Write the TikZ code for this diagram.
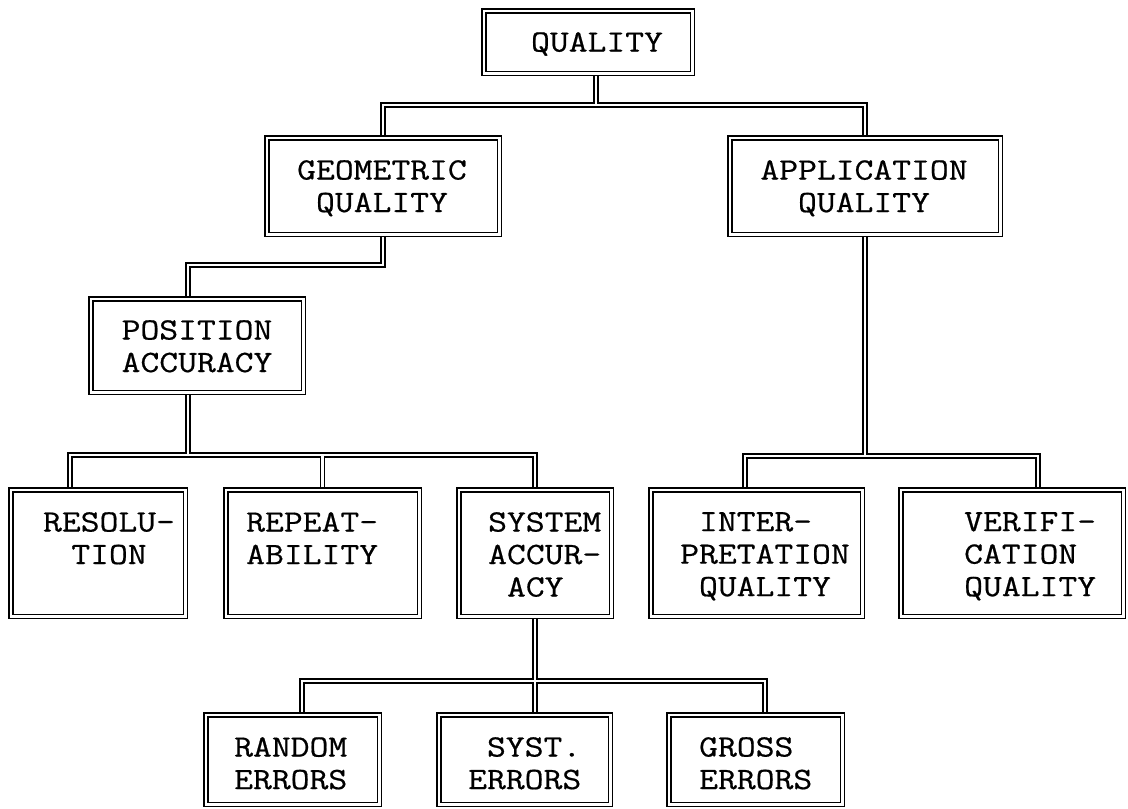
\documentclass[tikz,border=0pt]{standalone}
\usepackage{fontspec}
\newfontfamily\cour[FakeStretch=1.18,FakeBold=0.6]{Latin Modern Mono}
\tikzset{
  qbox/.style={draw=black, double=white, line width=1.5pt, double distance=2.5pt,
    inner sep=0pt, outer sep=2.75pt},
  txt/.style={inner sep=0pt, font=\cour\fontsize{31}{32.5}\selectfont},
  blackline/.style={draw=black, line width=5.5pt, line join=miter, line cap=butt},
  whiteline/.style={draw=white, line width=2.5pt, line join=miter, line cap=butt}
}
\newcommand\mybox[5]{\node[qbox, minimum width={#4-#2-5.5}, minimum height={#5-#3-5.5}] (#1) at ({(#2+#4)/2},{(#3+#5)/2}) {};}
\newcommand\connpaths[1]{%
  \draw[#1] ([xshift=8pt]q.south) -- ++(0,29);
  \draw[#1] (geo.north) -- ++(0,-30) -| (app.north);
  \draw[#1] (geo.south) -- ++(0,28) -| ([xshift=-9pt]pos.north);
  \draw[#1] ([xshift=-9pt]pos.south) -- ++(0,60);
  \draw[#1] ([xshift=-28pt]res.north) -- ++(0,-32) -| (sys.north);
  \draw[#1] (rep.north) -- ++(0,-32);
  \draw[#1] (app.south) -- ++(0,219);
  \draw[#1] ([xshift=-11.5pt]int.north) -- ++(0,-31) -| ([xshift=26pt]ver.north);
  \draw[#1] (sys.south) -- (sys.south |- syt.north);
  \draw[#1] ([xshift=9.5pt]ran.north) -- ++(0,-31) -| ([xshift=9.5pt]gro.north);
}
\begin{document}
\begin{tikzpicture}[x=1pt,y=-1pt]
\path[fill=white, use as bounding box] (0,0) rectangle (1128,809);
% boxes (outer edges in pixel coordinates)
\mybox{q}{481}{8}{695}{76}
\mybox{geo}{264}{135}{502}{237}
\mybox{app}{727}{135}{1003}{237}
\mybox{pos}{88}{296}{306}{395}
\mybox{res}{8}{487}{188}{619}
\mybox{rep}{223}{487}{422}{619}
\mybox{sys}{456}{487}{614}{619}
\mybox{int}{648}{487}{865}{619}
\mybox{ver}{898}{487}{1126}{619}
\mybox{ran}{203}{712}{382}{807}
\mybox{syt}{436}{712}{613}{807}
\mybox{gro}{666}{712}{845}{807}
% texts
\node[txt, anchor=north, align=center] (q-t) at (597,32) {QUALITY};
\node[txt, anchor=north, align=center] (geo-t) at (382,160) {GEOMETRIC\\QUALITY};
\node[txt, anchor=north, align=center] (app-t) at (864,160) {APPLICATION\\QUALITY};
\node[txt, anchor=north, align=center] (pos-t) at (197,320) {POSITION\\ACCURACY};
\node[txt, anchor=north, align=center] (res-t) at (109,512) {RESOLU-\\TION};
\node[txt, anchor=north west, align=left] (rep-t) at (246,512) {REPEAT-\\ABILITY};
\node[txt, anchor=north west, align=left] (sys-t) at (488,512) {SYSTEM\\ACCUR-\\\hphantom{A}ACY};
\node[txt, anchor=north west, align=left] (int-t) at (680,512) {\hphantom{A}INTER-\\PRETATION\\\hphantom{A}QUALITY};
\node[txt, anchor=north west, align=left] (ver-t) at (964,512) {VERIFI-\\CATION\\QUALITY};
\node[txt, anchor=north west, align=left] (ran-t) at (234,737) {RANDOM\\ERRORS};
\node[txt, anchor=north west, align=left] (syt-t) at (468,737) {\hphantom{A}SYST.\\ERRORS};
\node[txt, anchor=north west, align=left] (gro-t) at (699,737) {GROSS\\ERRORS};
% connectors: black pass then white pass for clean double-line junctions
\connpaths{blackline}
\connpaths{whiteline}
\end{tikzpicture}
\end{document}
